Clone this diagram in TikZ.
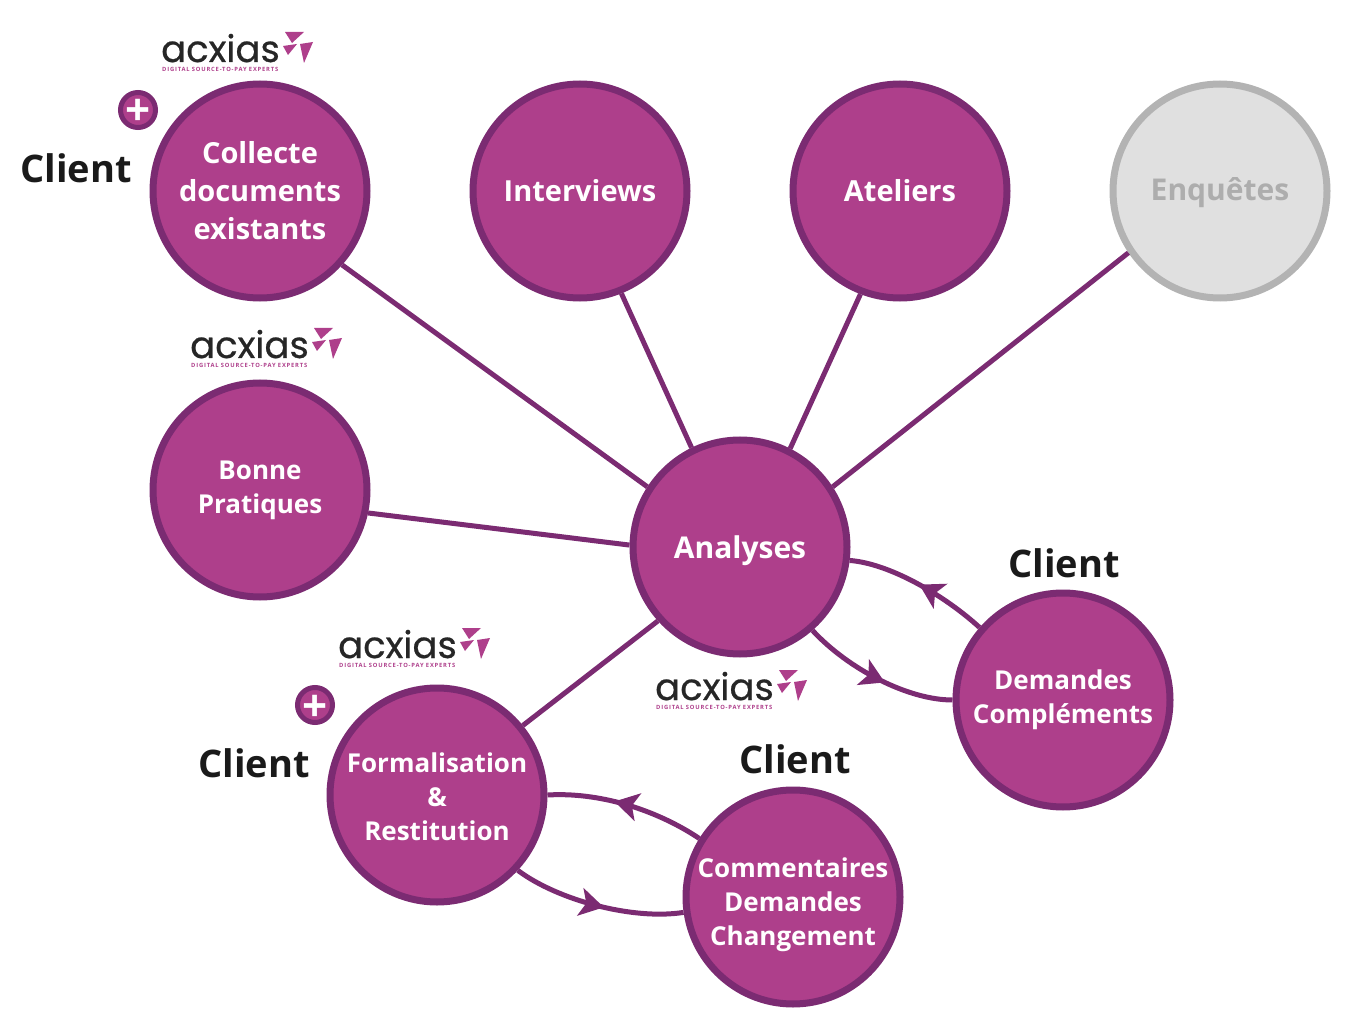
\documentclass[tikz,border=0pt]{standalone}
\usepackage{fontspec}
\setmainfont{Open Sans}
\newfontfamily\logofont[FakeBold=0.6]{Poppins}
\newfontfamily\tagfont[LetterSpace=14,BoldFont={Open Sans Bold}]{Open Sans}
\usetikzlibrary{arrows.meta,decorations.markings}
\definecolor{plum}{HTML}{AE3F8B}
\definecolor{plumdark}{HTML}{7B2B72}
\definecolor{greyfill}{HTML}{E0E0E0}
\definecolor{greyline}{HTML}{B3B3B3}
\definecolor{greytext}{HTML}{ADADAD}
\definecolor{ink}{HTML}{1A1A1A}
\tikzset{
  x=1pt,y=-1pt,
  stepcircle/.style={circle,draw=plumdark,fill=plum,line width=7pt,minimum size=214pt,inner sep=-30pt,
    text=white,align=center,font=\bfseries\fontsize{#1}{#1}\selectfont\setlength\baselineskip{1.31em}},
  stepcircle/.default=26,
  greycircle/.style={stepcircle=30,draw=greyline,fill=greyfill,text=greytext},
  steptext/.style={text=white,align=center,inner sep=0pt,font=\bfseries\fontsize{26}{26}\selectfont\setlength\baselineskip{34pt}},
  link/.style={draw=plumdark,line width=5pt},
  loopmark/.style={link,postaction={decorate},decoration={markings,
    mark=at position #1 with {\arrow[plumdark]{Stealth[length=24pt,width=28pt,inset=6pt]}}}},
  clientlabel/.style={text=ink,font=\bfseries\fontsize{38}{40}\selectfont,inner sep=0pt},
  plusbadge/.style={circle,draw=plumdark,fill=plum,line width=5pt,minimum size=35pt,inner sep=0pt,
    text=white,font=\bfseries\fontsize{44}{44}\selectfont},
  logotext/.style={text=black!85,font=\logofont\fontsize{37}{37}\selectfont,inner sep=0pt,anchor=base west},
  logotag/.style={text=plum,font=\tagfont\bfseries\fontsize{5.8}{6}\selectfont,inner sep=0pt,anchor=base west},
  logomark/.style={fill=plum,draw=none},
}
\newcommand{\acxlogo}[3]{%
  \node[logotext] (#1word) at (#2,#3+31) {acxias};
  \node[logotag] (#1tag) at (#2+1,#3+40.5) {DIGITAL SOURCE-TO-PAY EXPERTS};
  \fill[logomark] (#2+124,#3+1) -- (#2+143,#3+1) -- (#2+131,#3+12) -- cycle;
  \fill[logomark] (#2+152,#3+11) -- (#2+139,#3+13) -- (#2+143,#3+32) -- cycle;
  \fill[logomark] (#2+122,#3+15) -- (#2+136,#3+13) -- (#2+127,#3+24) -- cycle;
}
\begin{document}
\begin{tikzpicture}
\useasboundingbox (0,0) rectangle (1366,1024);
\node[stepcircle=29] (collecte) at (260,191) {Collecte\\documents\\existants};
\node[stepcircle=29] (interviews) at (580,191) {\raisebox{-11pt}[0pt][0pt]{Interviews}};
\node[stepcircle=29] (ateliers) at (900,191) {\raisebox{-11pt}[0pt][0pt]{Ateliers}};
\node[greycircle] (enquetes) at (1220,191) {\raisebox{-10pt}[0pt][0pt]{Enquêtes}};
\node[stepcircle] (bonne) at (260,490) {Bonne\\Pratiques};
\node[stepcircle=30] (analyses) at (740,547) {\raisebox{-11pt}[0pt][0pt]{Analyses}};
\node[stepcircle] (demandes) at (1063,700) {Demandes\\Compléments};
\node[stepcircle] (formal) at (437,795) {};
\node[steptext] (formaltext) at (437,797) {Formalisation\\\&\\Restitution};
\node[stepcircle] (comment) at (793,897) {};
\node[steptext] (commenttext) at (793,905) {Commentaires\\Demandes\\Changement};

\draw[link] (collecte.-42) -- (analyses.147);
\draw[link] (interviews.-68) -- (analyses.116);
\draw[link] (ateliers.249) -- (analyses.63);
\draw[link] (enquetes.214) -- (analyses.33.5);
\draw[link] (bonne.-12) -- (analyses.179);
\draw[link] (formal.39) -- (analyses.222.5);

\draw[loopmark=0.5] (demandes.139) .. controls +(-35,-32) and +(40,3) .. (analyses.-7);
\draw[loopmark=0.56] (analyses.-49) .. controls +(35,38) and +(-45,0) .. (demandes.180);
\draw[loopmark=0.58] (comment.148) .. controls +(-45,-30) and +(50,-3) .. (formal.0);
\draw[loopmark=0.54] (formal.-43) .. controls +(40,30) and +(-50,8) .. (comment.188);

\node[clientlabel] (client1) at (76,168) {Client};
\node[clientlabel] (client2) at (1064,563) {Client};
\node[clientlabel] (client3) at (254,763) {Client};
\node[clientlabel] (client4) at (795,759) {Client};
\node[plusbadge] (plus1) at (138,110) {\raisebox{-16pt}[0pt][0pt]{+}};
\node[plusbadge] (plus2) at (315,705) {\raisebox{-16pt}[0pt][0pt]{+}};
\acxlogo{la}{161}{31}
\acxlogo{lb}{190}{327}
\acxlogo{lc}{338}{627}
\acxlogo{ld}{655}{669}
\end{tikzpicture}
\end{document}
